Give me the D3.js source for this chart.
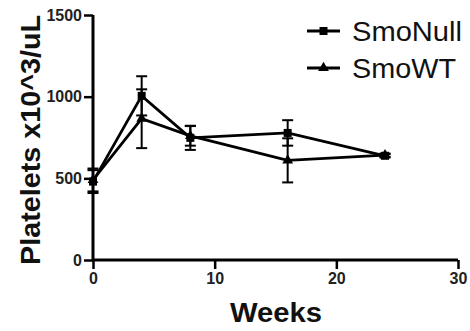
<!DOCTYPE html>
<html><head><meta charset="utf-8">
<script src="https://cdn.jsdelivr.net/npm/d3@7"></script>
<style>body{margin:0;background:#fff}svg{display:block}</style>
</head><body>
<script>
const weeks = [0, 4, 8, 16, 24];
const smoNull = [480, 1005, 748, 778, 638];
const smoNullErr = [70, 120, 74, 78, 10];
const smoWT = [490, 865, 760, 610, 642];
const smoWTErr = [70, 180, 60, 135, 10];
const xTicks = [0, 10, 20, 30];
const yTicks = [0, 500, 1000, 1500];
const seriesNames = ["SmoNull", "SmoWT"];

const W = 470, H = 331;
const svg = d3.select("body").append("svg").attr("width", W).attr("height", H);
const x = d3.scaleLinear().domain([0, 30]).range([93, 458]);
const y = d3.scaleLinear().domain([0, 1500]).range([260, 15]);
const font = "Liberation Sans, Arial, Helvetica, sans-serif";

// axes
const xAxis = svg.append("g").attr("transform", `translate(0,${y(0)})`)
  .call(d3.axisBottom(x).tickValues(xTicks).tickSize(9).tickPadding(4).tickFormat(d3.format("d")));
const yAxis = svg.append("g").attr("transform", `translate(${x(0)},0)`)
  .call(d3.axisLeft(y).tickValues(yTicks).tickSize(9).tickPadding(2).tickFormat(d3.format("d")));
[xAxis, yAxis].forEach(g => {
  g.select(".domain").attr("stroke", "#000").attr("stroke-width", 3);
  g.selectAll(".tick line").attr("stroke", "#000").attr("stroke-width", 2.5);
  g.selectAll(".tick text").attr("fill", "#222").style("font-family", font)
    .style("font-size", "16px").style("font-weight", "bold");
});
xAxis.select(".domain").attr("d", `M${x(0)},0H${x(30)}`);
yAxis.select(".domain").attr("d", `M0,${y(1500)}V${y(0)}`);

const series = [
  {name: seriesNames[0], vals: smoNull, err: smoNullErr, sym: d3.symbolSquare, size: 64, len: 110},
  {name: seriesNames[1], vals: smoWT, err: smoWTErr, sym: d3.symbolTriangle, size: 50, len: 104}
];

const line = d3.line().x(d => x(d[0])).y(d => y(d[1]));
series.forEach(s => {
  const pts = weeks.map((w, i) => [w, s.vals[i], s.err[i]]);
  const g = svg.append("g");
  pts.forEach(p => {
    const cx = x(p[0]);
    g.append("line").attr("x1", cx).attr("x2", cx).attr("y1", y(p[1] - p[2])).attr("y2", y(p[1] + p[2]))
      .attr("stroke", "#000").attr("stroke-width", 2);
    [p[1] - p[2], p[1] + p[2]].forEach(v => {
      g.append("line").attr("x1", cx - 5.5).attr("x2", cx + 5.5).attr("y1", y(v)).attr("y2", y(v))
        .attr("stroke", "#000").attr("stroke-width", 2);
    });
  });
  g.append("path").attr("d", line(pts)).attr("fill", "none").attr("stroke", "#000").attr("stroke-width", 2.8);
  g.selectAll("path.m").data(pts).enter().append("path").attr("class", "m")
    .attr("transform", d => `translate(${x(d[0])},${y(d[1])})`)
    .attr("d", d3.symbol().type(s.sym).size(s.size)).attr("fill", "#000");
});

// legend
series.forEach((s, i) => {
  const ly = 31 + i * 37;
  svg.append("line").attr("x1", 307).attr("x2", 340).attr("y1", ly).attr("y2", ly)
    .attr("stroke", "#000").attr("stroke-width", 2.8);
  svg.append("path").attr("transform", `translate(323.5,${ly})`)
    .attr("d", d3.symbol().type(s.sym).size(s.size)).attr("fill", "#000");
  svg.append("text").attr("x", 352).attr("y", ly + 10).text(s.name)
    .attr("textLength", s.len).attr("lengthAdjust", "spacingAndGlyphs")
    .style("font-family", font).style("font-size", "27px").attr("fill", "#111");
});

// titles
svg.append("text").attr("x", 276).attr("y", 322).attr("text-anchor", "middle").text("Weeks")
  .attr("textLength", 92).attr("lengthAdjust", "spacingAndGlyphs")
  .style("font-family", font).style("font-size", "28px").style("font-weight", "bold").attr("fill", "#111");
svg.append("text").attr("transform", `translate(40,140) rotate(-90)`).attr("text-anchor", "middle")
  .text("Platelets x10^3/uL")
  .attr("textLength", 250).attr("lengthAdjust", "spacingAndGlyphs")
  .style("font-family", font).style("font-size", "28px").style("font-weight", "bold").attr("fill", "#111");
</script>
</body></html>
